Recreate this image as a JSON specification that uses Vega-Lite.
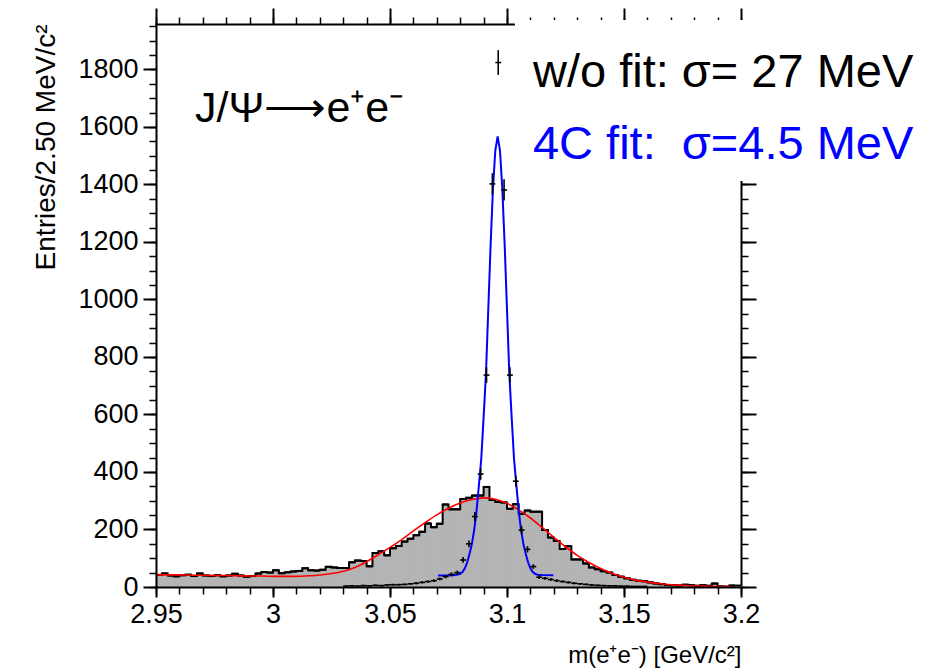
{
  "$schema": "https://vega.github.io/schema/vega-lite/v6.json",
  "width": 585,
  "height": 563,
  "autosize": "none",
  "padding": {"left": 156, "top": 24, "right": 197, "bottom": 85},
  "background": "white",
  "config": {
    "font": "Liberation Sans",
    "view": {"stroke": null},
    "axis": {
      "domainColor": "black", "domainWidth": 2, "domainCap": "square",
      "tickColor": "black", "tickWidth": 2,
      "labelColor": "black", "labelFont": "Liberation Sans", "labelFontSize": 27,
      "titleColor": "black", "titleFont": "Liberation Sans", "titleFontWeight": "normal",
      "grid": false, "labelOverlap": false, "labelFlush": false, "labelBound": false
    }
  },
  "datasets": {
    "hist": [
      {"lo": 2.95, "hi": 2.9525, "n": 42}, {"lo": 2.9525, "hi": 2.955, "n": 47}, {"lo": 2.955, "hi": 2.9575, "n": 40}, {"lo": 2.9575, "hi": 2.96, "n": 37},
      {"lo": 2.96, "hi": 2.9625, "n": 41}, {"lo": 2.9625, "hi": 2.965, "n": 43}, {"lo": 2.965, "hi": 2.9675, "n": 38}, {"lo": 2.9675, "hi": 2.97, "n": 47},
      {"lo": 2.97, "hi": 2.9725, "n": 40}, {"lo": 2.9725, "hi": 2.975, "n": 38}, {"lo": 2.975, "hi": 2.9775, "n": 41}, {"lo": 2.9775, "hi": 2.98, "n": 37},
      {"lo": 2.98, "hi": 2.9825, "n": 40}, {"lo": 2.9825, "hi": 2.985, "n": 46}, {"lo": 2.985, "hi": 2.9875, "n": 40}, {"lo": 2.9875, "hi": 2.99, "n": 36},
      {"lo": 2.99, "hi": 2.9925, "n": 38}, {"lo": 2.9925, "hi": 2.995, "n": 47}, {"lo": 2.995, "hi": 2.9975, "n": 52}, {"lo": 2.9975, "hi": 3.0, "n": 50},
      {"lo": 3.0, "hi": 3.0025, "n": 58}, {"lo": 3.0025, "hi": 3.005, "n": 48}, {"lo": 3.005, "hi": 3.0075, "n": 51}, {"lo": 3.0075, "hi": 3.01, "n": 54},
      {"lo": 3.01, "hi": 3.0125, "n": 56}, {"lo": 3.0125, "hi": 3.015, "n": 65}, {"lo": 3.015, "hi": 3.0175, "n": 58}, {"lo": 3.0175, "hi": 3.02, "n": 57},
      {"lo": 3.02, "hi": 3.0225, "n": 60}, {"lo": 3.0225, "hi": 3.025, "n": 70}, {"lo": 3.025, "hi": 3.0275, "n": 68}, {"lo": 3.0275, "hi": 3.03, "n": 66},
      {"lo": 3.03, "hi": 3.0325, "n": 66}, {"lo": 3.0325, "hi": 3.035, "n": 86}, {"lo": 3.035, "hi": 3.0375, "n": 92}, {"lo": 3.0375, "hi": 3.04, "n": 90},
      {"lo": 3.04, "hi": 3.0425, "n": 72}, {"lo": 3.0425, "hi": 3.045, "n": 118}, {"lo": 3.045, "hi": 3.0475, "n": 124}, {"lo": 3.0475, "hi": 3.05, "n": 110},
      {"lo": 3.05, "hi": 3.0525, "n": 135}, {"lo": 3.0525, "hi": 3.055, "n": 143}, {"lo": 3.055, "hi": 3.0575, "n": 158}, {"lo": 3.0575, "hi": 3.06, "n": 168},
      {"lo": 3.06, "hi": 3.0625, "n": 180}, {"lo": 3.0625, "hi": 3.065, "n": 192}, {"lo": 3.065, "hi": 3.0675, "n": 221}, {"lo": 3.0675, "hi": 3.07, "n": 208},
      {"lo": 3.07, "hi": 3.0725, "n": 220}, {"lo": 3.0725, "hi": 3.075, "n": 287}, {"lo": 3.075, "hi": 3.0775, "n": 270}, {"lo": 3.0775, "hi": 3.08, "n": 270},
      {"lo": 3.08, "hi": 3.0825, "n": 306}, {"lo": 3.0825, "hi": 3.085, "n": 310}, {"lo": 3.085, "hi": 3.0875, "n": 318}, {"lo": 3.0875, "hi": 3.09, "n": 318},
      {"lo": 3.09, "hi": 3.0925, "n": 348}, {"lo": 3.0925, "hi": 3.095, "n": 303}, {"lo": 3.095, "hi": 3.0975, "n": 296}, {"lo": 3.0975, "hi": 3.1, "n": 294},
      {"lo": 3.1, "hi": 3.1025, "n": 272}, {"lo": 3.1025, "hi": 3.105, "n": 288}, {"lo": 3.105, "hi": 3.1075, "n": 255}, {"lo": 3.1075, "hi": 3.11, "n": 266},
      {"lo": 3.11, "hi": 3.1125, "n": 262}, {"lo": 3.1125, "hi": 3.115, "n": 262}, {"lo": 3.115, "hi": 3.1175, "n": 198}, {"lo": 3.1175, "hi": 3.12, "n": 172},
      {"lo": 3.12, "hi": 3.1225, "n": 160}, {"lo": 3.1225, "hi": 3.125, "n": 132}, {"lo": 3.125, "hi": 3.1275, "n": 142}, {"lo": 3.1275, "hi": 3.13, "n": 96},
      {"lo": 3.13, "hi": 3.1325, "n": 96}, {"lo": 3.1325, "hi": 3.135, "n": 82}, {"lo": 3.135, "hi": 3.1375, "n": 68}, {"lo": 3.1375, "hi": 3.14, "n": 62},
      {"lo": 3.14, "hi": 3.1425, "n": 55}, {"lo": 3.1425, "hi": 3.145, "n": 50}, {"lo": 3.145, "hi": 3.1475, "n": 42}, {"lo": 3.1475, "hi": 3.15, "n": 36},
      {"lo": 3.15, "hi": 3.1525, "n": 30}, {"lo": 3.1525, "hi": 3.155, "n": 25}, {"lo": 3.155, "hi": 3.1575, "n": 22}, {"lo": 3.1575, "hi": 3.16, "n": 20},
      {"lo": 3.16, "hi": 3.1625, "n": 16}, {"lo": 3.1625, "hi": 3.165, "n": 12}, {"lo": 3.165, "hi": 3.1675, "n": 10}, {"lo": 3.1675, "hi": 3.17, "n": 7},
      {"lo": 3.17, "hi": 3.1725, "n": 6}, {"lo": 3.1725, "hi": 3.175, "n": 5}, {"lo": 3.175, "hi": 3.1775, "n": 8}, {"lo": 3.1775, "hi": 3.18, "n": 6},
      {"lo": 3.18, "hi": 3.1825, "n": 4}, {"lo": 3.1825, "hi": 3.185, "n": 6}, {"lo": 3.185, "hi": 3.1875, "n": 4}, {"lo": 3.1875, "hi": 3.19, "n": 12},
      {"lo": 3.19, "hi": 3.1925, "n": 2}, {"lo": 3.1925, "hi": 3.195, "n": 1}, {"lo": 3.195, "hi": 3.1975, "n": 5}, {"lo": 3.1975, "hi": 3.2, "n": 5}
    ],
    "fit4c": [
      {"lo": 3.03, "hi": 3.0325, "m": 3.03125, "n": 3, "err": 2}, {"lo": 3.0325, "hi": 3.035, "m": 3.03375, "n": 4, "err": 2},
      {"lo": 3.035, "hi": 3.0375, "m": 3.03625, "n": 3, "err": 2}, {"lo": 3.0375, "hi": 3.04, "m": 3.03875, "n": 5, "err": 2},
      {"lo": 3.04, "hi": 3.0425, "m": 3.04125, "n": 4, "err": 2}, {"lo": 3.0425, "hi": 3.045, "m": 3.04375, "n": 6, "err": 2},
      {"lo": 3.045, "hi": 3.0475, "m": 3.04625, "n": 5, "err": 2}, {"lo": 3.0475, "hi": 3.05, "m": 3.04875, "n": 7, "err": 3},
      {"lo": 3.05, "hi": 3.0525, "m": 3.05125, "n": 8, "err": 3}, {"lo": 3.0525, "hi": 3.055, "m": 3.05375, "n": 8, "err": 3},
      {"lo": 3.055, "hi": 3.0575, "m": 3.05625, "n": 9, "err": 3}, {"lo": 3.0575, "hi": 3.06, "m": 3.05875, "n": 11, "err": 3},
      {"lo": 3.06, "hi": 3.0625, "m": 3.06125, "n": 13, "err": 4}, {"lo": 3.0625, "hi": 3.065, "m": 3.06375, "n": 16, "err": 4},
      {"lo": 3.065, "hi": 3.0675, "m": 3.06625, "n": 19, "err": 4}, {"lo": 3.0675, "hi": 3.07, "m": 3.06875, "n": 22, "err": 5},
      {"lo": 3.07, "hi": 3.0725, "m": 3.07125, "n": 28, "err": 5}, {"lo": 3.0725, "hi": 3.075, "m": 3.07375, "n": 36, "err": 6},
      {"lo": 3.075, "hi": 3.0775, "m": 3.07625, "n": 44, "err": 7}, {"lo": 3.0775, "hi": 3.08, "m": 3.07875, "n": 50, "err": 7},
      {"lo": 3.08, "hi": 3.0825, "m": 3.08125, "n": 94, "err": 10}, {"lo": 3.0825, "hi": 3.085, "m": 3.08375, "n": 150, "err": 12},
      {"lo": 3.085, "hi": 3.0875, "m": 3.08625, "n": 245, "err": 16}, {"lo": 3.0875, "hi": 3.09, "m": 3.08875, "n": 393, "err": 20},
      {"lo": 3.09, "hi": 3.0925, "m": 3.09125, "n": 737, "err": 27}, {"lo": 3.0925, "hi": 3.095, "m": 3.09375, "n": 1402, "err": 37},
      {"lo": 3.095, "hi": 3.0975, "m": 3.09625, "n": 1824, "err": 43}, {"lo": 3.0975, "hi": 3.1, "m": 3.09875, "n": 1381, "err": 37},
      {"lo": 3.1, "hi": 3.1025, "m": 3.10125, "n": 737, "err": 27}, {"lo": 3.1025, "hi": 3.105, "m": 3.10375, "n": 368, "err": 19},
      {"lo": 3.105, "hi": 3.1075, "m": 3.10625, "n": 198, "err": 14}, {"lo": 3.1075, "hi": 3.11, "m": 3.10875, "n": 131, "err": 11},
      {"lo": 3.11, "hi": 3.1125, "m": 3.11125, "n": 71, "err": 8}, {"lo": 3.1125, "hi": 3.115, "m": 3.11375, "n": 34, "err": 6},
      {"lo": 3.115, "hi": 3.1175, "m": 3.11625, "n": 30, "err": 5}, {"lo": 3.1175, "hi": 3.12, "m": 3.11875, "n": 26, "err": 5},
      {"lo": 3.12, "hi": 3.1225, "m": 3.12125, "n": 22, "err": 5}, {"lo": 3.1225, "hi": 3.125, "m": 3.12375, "n": 19, "err": 4},
      {"lo": 3.125, "hi": 3.1275, "m": 3.12625, "n": 16, "err": 4}, {"lo": 3.1275, "hi": 3.13, "m": 3.12875, "n": 13, "err": 4},
      {"lo": 3.13, "hi": 3.1325, "m": 3.13125, "n": 11, "err": 3}, {"lo": 3.1325, "hi": 3.135, "m": 3.13375, "n": 9, "err": 3},
      {"lo": 3.135, "hi": 3.1375, "m": 3.13625, "n": 7, "err": 3}, {"lo": 3.1375, "hi": 3.14, "m": 3.13875, "n": 6, "err": 2},
      {"lo": 3.14, "hi": 3.1425, "m": 3.14125, "n": 5, "err": 2}, {"lo": 3.1425, "hi": 3.145, "m": 3.14375, "n": 4, "err": 2},
      {"lo": 3.145, "hi": 3.1475, "m": 3.14625, "n": 4, "err": 2}, {"lo": 3.1475, "hi": 3.15, "m": 3.14875, "n": 3, "err": 2},
      {"lo": 3.15, "hi": 3.1525, "m": 3.15125, "n": 3, "err": 2}, {"lo": 3.1525, "hi": 3.155, "m": 3.15375, "n": 2, "err": 1},
      {"lo": 3.155, "hi": 3.1575, "m": 3.15625, "n": 2, "err": 1}, {"lo": 3.1575, "hi": 3.16, "m": 3.15875, "n": 2, "err": 1}
    ],
    "redfit": [
      {"m": 2.95, "f": 43}, {"m": 2.955, "f": 42}, {"m": 2.96, "f": 42}, {"m": 2.965, "f": 41}, {"m": 2.97, "f": 41},
      {"m": 2.975, "f": 40}, {"m": 2.98, "f": 40}, {"m": 2.985, "f": 39}, {"m": 2.99, "f": 38}, {"m": 2.995, "f": 38},
      {"m": 3.0, "f": 37}, {"m": 3.005, "f": 37}, {"m": 3.01, "f": 37}, {"m": 3.015, "f": 39}, {"m": 3.02, "f": 42},
      {"m": 3.025, "f": 47}, {"m": 3.03, "f": 55}, {"m": 3.035, "f": 68}, {"m": 3.04, "f": 88}, {"m": 3.045, "f": 112},
      {"m": 3.05, "f": 138}, {"m": 3.055, "f": 165}, {"m": 3.06, "f": 195}, {"m": 3.065, "f": 224}, {"m": 3.07, "f": 251},
      {"m": 3.075, "f": 274}, {"m": 3.08, "f": 292}, {"m": 3.085, "f": 304}, {"m": 3.09, "f": 310}, {"m": 3.095, "f": 305},
      {"m": 3.1, "f": 291}, {"m": 3.105, "f": 268}, {"m": 3.11, "f": 240}, {"m": 3.115, "f": 207}, {"m": 3.12, "f": 173},
      {"m": 3.125, "f": 140}, {"m": 3.13, "f": 110}, {"m": 3.135, "f": 85}, {"m": 3.14, "f": 64}, {"m": 3.145, "f": 47},
      {"m": 3.15, "f": 34}, {"m": 3.155, "f": 24}, {"m": 3.16, "f": 17}, {"m": 3.165, "f": 12}, {"m": 3.17, "f": 8},
      {"m": 3.175, "f": 6}, {"m": 3.18, "f": 4}, {"m": 3.185, "f": 3}, {"m": 3.19, "f": 2}, {"m": 3.196, "f": 2}
    ],
    "bluefit": [
      {"m": 3.0705, "f": 40}, {"m": 3.077, "f": 41}, {"m": 3.079, "f": 43}, {"m": 3.08, "f": 46}, {"m": 3.081, "f": 52},
      {"m": 3.082, "f": 65}, {"m": 3.083, "f": 86}, {"m": 3.084, "f": 116}, {"m": 3.085, "f": 150}, {"m": 3.086, "f": 199},
      {"m": 3.087, "f": 265}, {"m": 3.088, "f": 354}, {"m": 3.089, "f": 446}, {"m": 3.09, "f": 589}, {"m": 3.091, "f": 740},
      {"m": 3.092, "f": 965}, {"m": 3.093, "f": 1190}, {"m": 3.094, "f": 1385}, {"m": 3.095, "f": 1518}, {"m": 3.096, "f": 1567},
      {"m": 3.097, "f": 1518}, {"m": 3.098, "f": 1385}, {"m": 3.099, "f": 1190}, {"m": 3.1, "f": 965}, {"m": 3.101, "f": 740},
      {"m": 3.102, "f": 589}, {"m": 3.103, "f": 446}, {"m": 3.104, "f": 354}, {"m": 3.105, "f": 265}, {"m": 3.106, "f": 199},
      {"m": 3.107, "f": 150}, {"m": 3.108, "f": 116}, {"m": 3.109, "f": 86}, {"m": 3.11, "f": 65}, {"m": 3.111, "f": 52},
      {"m": 3.112, "f": 46}, {"m": 3.113, "f": 43}, {"m": 3.115, "f": 42}, {"m": 3.1198, "f": 41}
    ],
    "one": [{}]
  },
  "resolve": {"axis": {"x": "independent", "y": "independent"}},
  "layer": [
    {
      "data": {"name": "hist"},
      "mark": {"type": "rect", "color": "#b4b4b4", "stroke": "#b4b4b4", "strokeWidth": 1},
      "encoding": {
        "x": {"field": "lo", "type": "quantitative", "scale": {"domain": [2.95, 3.2], "nice": false, "zero": false},
              "axis": {"orient": "bottom", "values": [2.95, 3, 3.05, 3.1, 3.15, 3.2], "format": ".3~g", "tickSize": 10, "labelPadding": 4,
                       "title": "m(e⁺e⁻) [GeV/c²]", "titleAnchor": "end", "titleFontSize": 24, "titlePadding": 16, "zindex": 1}},
        "x2": {"field": "hi"},
        "y": {"field": "n", "type": "quantitative", "scale": {"domain": [0, 1958], "nice": false, "zero": false},
              "axis": {"orient": "left", "values": [0, 200, 400, 600, 800, 1000, 1200, 1400, 1600, 1800], "format": "d", "tickSize": 13, "labelPadding": 5,
                       "title": "Entries/2.50 MeV/c²", "titleAnchor": "end", "titleFontSize": 28, "titlePadding": 17, "zindex": 1}},
        "y2": {"datum": 0}
      }
    },
    {
      "data": {"name": "hist"},
      "mark": {"type": "line", "color": "black", "strokeWidth": 2, "interpolate": "step-after"},
      "encoding": {
        "x": {"field": "lo", "type": "quantitative", "scale": {"domain": [2.95, 3.2], "nice": false, "zero": false},
              "axis": {"orient": "bottom", "values": [2.95, 2.96, 2.97, 2.98, 2.99, 3, 3.01, 3.02, 3.03, 3.04, 3.05, 3.06, 3.07, 3.08, 3.09, 3.1, 3.11, 3.12, 3.13, 3.14, 3.15, 3.16, 3.17, 3.18, 3.19, 3.2],
                       "tickSize": 7, "tickWidth": 1.5, "labels": false, "domain": false, "title": null, "zindex": 1}},
        "y": {"field": "n", "type": "quantitative", "scale": {"domain": [0, 1958], "nice": false, "zero": false},
              "axis": {"orient": "left", "values": [0, 50, 100, 150, 200, 250, 300, 350, 400, 450, 500, 550, 600, 650, 700, 750, 800, 850, 900, 950, 1000, 1050, 1100, 1150, 1200, 1250, 1300, 1350, 1400, 1450, 1500, 1550, 1600, 1650, 1700, 1750, 1800, 1850, 1900, 1950],
                       "tickSize": 7, "tickWidth": 1.5, "labels": false, "domain": false, "title": null, "zindex": 1}}
      }
    },
    {
      "data": {"name": "hist"},
      "mark": {"type": "rule", "color": "black", "strokeWidth": 2},
      "encoding": {
        "x": {"field": "lo", "type": "quantitative", "scale": {"domain": [2.95, 3.2], "nice": false, "zero": false},
              "axis": {"orient": "top", "values": [2.95, 3, 3.05, 3.1, 3.15, 3.2], "tickSize": 16, "labels": false, "title": null, "zindex": 0}},
        "x2": {"field": "hi"},
        "y": {"field": "n", "type": "quantitative", "scale": {"domain": [0, 1958], "nice": false, "zero": false},
              "axis": {"orient": "right", "values": [0, 200, 400, 600, 800, 1000, 1200, 1400, 1600, 1800], "tickSize": 15, "labels": false, "title": null, "zindex": 0}}
      }
    },
    {
      "data": {"name": "redfit"},
      "mark": {"type": "line", "color": "#ff0000", "strokeWidth": 1.6, "interpolate": "monotone"},
      "encoding": {
        "x": {"field": "m", "type": "quantitative", "scale": {"domain": [2.95, 3.2], "nice": false, "zero": false},
              "axis": {"orient": "top", "values": [2.95, 2.96, 2.97, 2.98, 2.99, 3, 3.01, 3.02, 3.03, 3.04, 3.05, 3.06, 3.07, 3.08, 3.09, 3.1, 3.11, 3.12, 3.13, 3.14, 3.15, 3.16, 3.17, 3.18, 3.19, 3.2],
                       "tickSize": 7, "tickWidth": 1.5, "labels": false, "domain": false, "title": null, "zindex": 0}},
        "y": {"field": "f", "type": "quantitative", "scale": {"domain": [0, 1958], "nice": false, "zero": false},
              "axis": {"orient": "right", "values": [0, 50, 100, 150, 200, 250, 300, 350, 400, 450, 500, 550, 600, 650, 700, 750, 800, 850, 900, 950, 1000, 1050, 1100, 1150, 1200, 1250, 1300, 1350, 1400, 1450, 1500, 1550, 1600, 1650, 1700, 1750, 1800, 1850, 1900, 1950],
                       "tickSize": 7, "tickWidth": 1.5, "labels": false, "domain": false, "title": null, "zindex": 0}}
      }
    },
    {
      "data": {"name": "bluefit"},
      "mark": {"type": "line", "color": "#0000ff", "strokeWidth": 2, "interpolate": "linear"},
      "encoding": {
        "x": {"field": "m", "type": "quantitative", "scale": {"domain": [2.95, 3.2], "nice": false, "zero": false}, "axis": null},
        "y": {"field": "f", "type": "quantitative", "scale": {"domain": [0, 1958], "nice": false, "zero": false}, "axis": null}
      }
    },
    {
      "data": {"name": "fit4c"},
      "mark": {"type": "rule", "color": "black", "strokeWidth": 1.6},
      "encoding": {
        "x": {"field": "lo", "type": "quantitative", "scale": {"domain": [2.95, 3.2], "nice": false, "zero": false}, "axis": null},
        "x2": {"field": "hi"},
        "y": {"field": "n", "type": "quantitative", "scale": {"domain": [0, 1958], "nice": false, "zero": false}, "axis": null}
      }
    },
    {
      "data": {"name": "fit4c"},
      "mark": {"type": "errorbar", "color": "black", "thickness": 1.6},
      "encoding": {
        "x": {"field": "m", "type": "quantitative", "scale": {"domain": [2.95, 3.2], "nice": false, "zero": false}, "axis": null},
        "y": {"field": "n", "type": "quantitative", "scale": {"domain": [0, 1958], "nice": false, "zero": false}, "axis": null},
        "yError": {"field": "err"}
      }
    },
    {
      "data": {"name": "one"},
      "mark": {"type": "rect", "color": "white"},
      "encoding": {
        "x": {"datum": 3.1034, "type": "quantitative", "scale": {"domain": [2.95, 3.2], "nice": false, "zero": false}, "axis": null},
        "x2": {"datum": 3.3},
        "y": {"datum": 1412, "type": "quantitative", "scale": {"domain": [0, 1958], "nice": false, "zero": false}, "axis": null},
        "y2": {"datum": 1972}
      }
    },
    {
      "data": {"name": "one"},
      "mark": {"type": "text", "text": "J/Ψ⟶e⁺e⁻", "align": "left", "baseline": "alphabetic", "fontSize": 43, "color": "black", "font": "Liberation Sans"},
      "encoding": {
        "x": {"datum": 2.9667, "type": "quantitative", "scale": {"domain": [2.95, 3.2], "nice": false, "zero": false}, "axis": null},
        "y": {"datum": 1616, "type": "quantitative", "scale": {"domain": [0, 1958], "nice": false, "zero": false}, "axis": null}
      }
    },
    {
      "data": {"name": "one"},
      "mark": {"type": "text", "text": "w/o fit: σ= 27 MeV", "align": "left", "baseline": "alphabetic", "fontSize": 47, "color": "black", "font": "Liberation Sans"},
      "encoding": {
        "x": {"datum": 3.1111, "type": "quantitative", "scale": {"domain": [2.95, 3.2], "nice": false, "zero": false}, "axis": null},
        "y": {"datum": 1740, "type": "quantitative", "scale": {"domain": [0, 1958], "nice": false, "zero": false}, "axis": null}
      }
    },
    {
      "data": {"name": "one"},
      "mark": {"type": "text", "text": "4C fit:\u00a0 σ=4.5 MeV", "align": "left", "baseline": "alphabetic", "fontSize": 47, "color": "#0000ff", "font": "Liberation Sans"},
      "encoding": {
        "x": {"datum": 3.1111, "type": "quantitative", "scale": {"domain": [2.95, 3.2], "nice": false, "zero": false}, "axis": null},
        "y": {"datum": 1487, "type": "quantitative", "scale": {"domain": [0, 1958], "nice": false, "zero": false}, "axis": null}
      }
    }
  ]
}
